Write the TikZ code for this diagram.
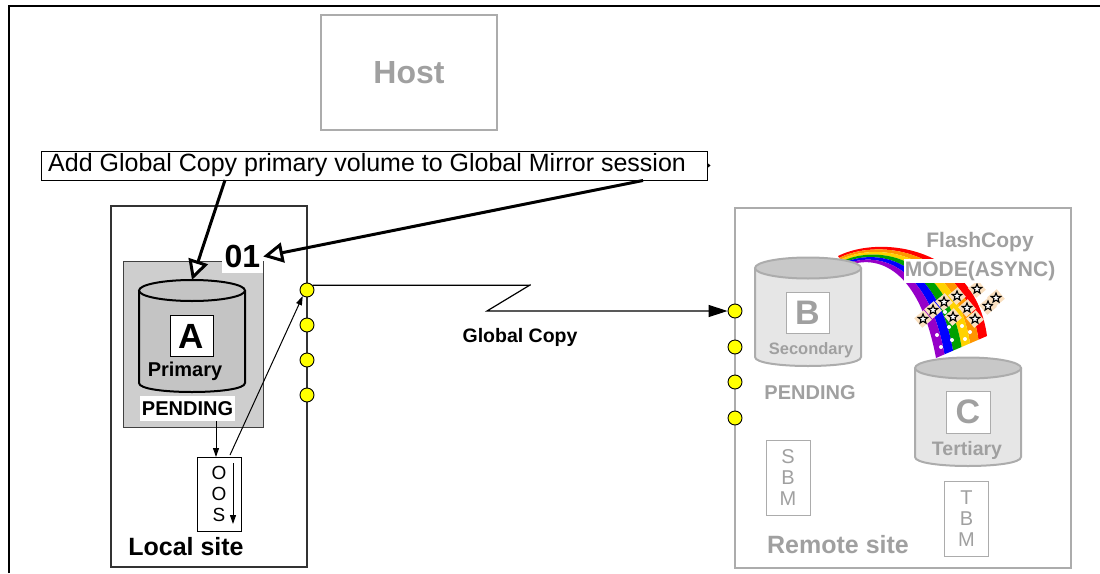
\documentclass[tikz,border=0pt]{standalone}
\usepackage{fontspec}
\setmainfont{Liberation Sans}
\usetikzlibrary{arrows.meta,shapes.geometric,calc}

\definecolor{ghost}{RGB}{160,160,160}
\definecolor{ghostline}{RGB}{172,172,172}
\definecolor{drumgray}{RGB}{196,196,196}
\definecolor{hatchgray}{RGB}{206,206,206}
\definecolor{palebody}{RGB}{230,230,230}
\definecolor{palelid}{RGB}{200,200,200}
\definecolor{portyellow}{RGB}{255,255,0}
\definecolor{tilebeige}{RGB}{250,224,192}
\definecolor{rbred}{RGB}{255,0,0}
\definecolor{rborange}{RGB}{255,150,0}
\definecolor{rbyellow}{RGB}{255,210,0}
\definecolor{rbgreen}{RGB}{0,160,0}
\definecolor{rbblue}{RGB}{0,0,255}
\definecolor{rbviolet}{RGB}{150,0,200}

\newcommand{\fsz}[1]{\fontsize{#1}{#1}\selectfont}
\newcommand{\fszl}[2]{\fontsize{#1}{#2}\selectfont}
% storage drum: centre x, lid centre y, side bottom y, body style, lid style
\newcommand{\storagedrum}[5]{%
  \filldraw[#4] ({#1-53},#2) -- ({#1-53},#3)
    .. controls ({#1-53},{#3+12}) and ({#1+53},{#3+12}) .. ({#1+53},#3) -- ({#1+53},#2);
  \filldraw[#5] (#1,#2) ellipse [x radius=53pt, y radius=10.5pt];
}

\begin{document}
\begin{tikzpicture}[x=1pt,y=-1pt,
  txt/.style={inner sep=0pt},
  ghosttxt/.style={inner sep=0pt, text=ghost, font=\bfseries\fsz{#1}},
  port/.style={circle, draw, line width=0.9pt, fill=portyellow, minimum size=14pt, inner sep=0pt},
  bigarrow/.style={line width=3pt, -{Triangle[fill=white, length=20pt, width=20pt]}},
  thinarrow/.style={line width=1pt, -{Triangle[length=9pt, width=6pt]}},
  labelbox/.style={draw, line width=1pt, fill=white, inner sep=0pt},
  bitmap/.style={draw=ghostline, line width=1pt, minimum width=44pt, minimum height=75pt,
    inner sep=0pt, align=center, text=ghost, font=\fszl{20}{21}},
  tile/.style={rectangle, fill=tilebeige, minimum size=12.5pt, inner sep=0pt, rotate=40},
  starmark/.style={star, star points=5, star point ratio=2.3, draw, line width=1.1pt,
    fill=white, minimum size=10pt, inner sep=0pt}
]
\useasboundingbox (0,0) rectangle (1100,573);

% outer frame (top and left edges)
\draw[line width=1.5pt] (9,573) -- (9,6) -- (1100,6);

% host
\node[draw=ghostline, line width=1.2pt, minimum width=176pt, minimum height=115pt,
  text=ghost, font=\bfseries\fsz{32}] (host) at (409,72.5) {Host};

% command callout
\node[draw, line width=1pt, minimum width=666pt, minimum height=29pt, inner sep=0pt] (note) at (374,165.5) {};
\node[txt, font=\fsz{25}, anchor=west] (notetext) at (48,165) {Add Global Copy primary volume to Global Mirror session};
\fill (note.east) ++(0,-2.5) -- ++(3,2.5) -- ++(-3,2.5) -- cycle;

% ---------- local site ----------
\node[draw=black!80, line width=1.2pt, minimum width=196pt, minimum height=361pt] (local) at (209,386.5) {};
\node[draw=black!75, line width=1pt, fill=hatchgray, minimum width=140pt, minimum height=166pt] (volbox) at (193,344) {};
\storagedrum{192}{290.5}{383}{fill=drumgray, line width=2pt}{fill=drumgray, line width=2pt}
\coordinate (drumAtop) at (192,280);
\node[labelbox, minimum width=43pt, minimum height=41pt, font=\bfseries\fsz{35}] (volA) at (191.5,336) {A};
\node[txt, font=\bfseries\fsz{20}] (prim) at (185,371) {Primary};
\node[fill=white, minimum width=95pt, minimum height=25pt, inner sep=0pt, font=\bfseries\fsz{20}] (pendA) at (187.5,408.5) {PENDING};
\node[fill=white, minimum width=41pt, minimum height=33pt, inner sep=0pt, font=\bfseries\fsz{32}] (sessid) at (242.5,256.5) {01};

% out-of-sync bitmap
\node[draw, line width=1pt, minimum width=44pt, minimum height=74pt, inner sep=0pt,
  align=center, font=\fszl{19}{21}] (oos) at (219,494) {O\\O\\S};
\coordinate (oosA) at (233,463);
\coordinate (oosB) at (233,524);
\draw[thinarrow] (oosA) -- (oosB);
\node[txt, font=\bfseries\fsz{25}] (localname) at (186,547) {Local site};

% local ports
\foreach \i/\y in {1/290,2/325,3/360,4/395}
  \node[port] (lp\i) at (307,\y) {};

% links inside the local site
\coordinate (pendOut) at (216,421);
\coordinate (oosIn) at (216,457);
\draw[thinarrow] (pendOut) -- (oosIn);
\coordinate (oosTop) at (230,455);
\draw[thinarrow] (oosTop) -- (lp1.235);

% command arrows
\coordinate (noteA) at (225,180);
\coordinate (noteB) at (643,180.5);
\draw[bigarrow] (noteA) -- (drumAtop);
\draw[bigarrow] (noteB) -- (sessid.east);

% ---------- remote site ----------
\node[draw=ghostline, line width=1.2pt, minimum width=336pt, minimum height=360pt] (remote) at (903,388) {};

% FlashCopy rainbow
\coordinate (s0) at (838,256);  \coordinate (a0) at (882,234);
\coordinate (b0) at (975,248);  \coordinate (e0) at (987,336);
\coordinate (s6) at (845,267);  \coordinate (a6) at (872,254);
\coordinate (b6) at (918,262);  \coordinate (e6) at (936,358);
\foreach \col [count=\k from 0] in {rbred,rborange,rbyellow,rbgreen,rbblue,rbviolet} {
  \pgfmathsetmacro\ta{\k/6}
  \pgfmathsetmacro\tb{(\k+1)/6}
  \fill[\col] ($(s0)!\ta!(s6)$) .. controls ($(a0)!\ta!(a6)$) and ($(b0)!\ta!(b6)$) .. ($(e0)!\ta!(e6)$)
    -- ($(e0)!\tb!(e6)$) .. controls ($(b0)!\tb!(b6)$) and ($(a0)!\tb!(a6)$) .. ($(s0)!\tb!(s6)$) -- cycle;
}
\foreach \x/\y in {937/335,941/347,949/327,952/340,956/352,962/326,965/339,945/312,970/332}
  \fill[white] (\x,\y) circle[radius=2pt];
\foreach \x/\y [count=\i] in {923/319,933/310,944/302,957/296,953/317,967/308,977/289,975/319,988/306,996/298} {
  \node[tile] (tile\i) at (\x,\y) {};
  \node[starmark] (star\i) at (\x,\y) {};
}

\storagedrum{808}{268}{357}{draw=ghostline, fill=palebody, line width=2pt}{draw=ghostline, fill=palelid, line width=2pt}
\storagedrum{968}{368}{457}{draw=ghostline, fill=palebody, line width=2pt}{draw=ghostline, fill=palelid, line width=2pt}

\node[draw=ghostline, fill=white, line width=1pt, minimum width=43pt, minimum height=41pt, inner sep=0pt,
  text=ghost, font=\bfseries\fsz{34}] (volB) at (807.5,312.5) {B};
\node[ghosttxt=16.5] (sec) at (811,350) {Secondary};
\node[ghosttxt=20] (pendB) at (810,393) {PENDING};
\node[draw=ghostline, fill=white, line width=1pt, minimum width=44pt, minimum height=42pt, inner sep=0pt,
  text=ghost, font=\bfseries\fsz{34}] (volC) at (968,412) {C};
\node[ghosttxt=19.5] (tert) at (967,450) {Tertiary};

\node[ghosttxt=21] (fc1) at (980,242) {FlashCopy};
\node[fill=white, inner xsep=1pt, inner ysep=2.5pt, text=ghost, font=\bfseries\fsz{21}] (fc2) at (980,271) {MODE(ASYNC)};

\node[bitmap] (sbm) at (788,477.5) {S\\B\\M};
\node[bitmap] (tbm) at (966.5,518.5) {T\\B\\M};
\node[ghosttxt=25] (remotename) at (838,545) {Remote site};

% remote ports
\foreach \i/\y in {1/311,2/347,3/382,4/418}
  \node[port] (rp\i) at (735,\y) {};

% Global Copy link
\coordinate (zigA) at (530,285);
\coordinate (zigB) at (487,311);
\draw[line width=1.2pt, -{Triangle[length=19pt, width=12pt]}]
  (lp1.40) -- (lp1.40 -| zigA) -- (zigA) -- (zigB) -- (rp1.west);
\node[txt, font=\bfseries\fsz{19.5}] (gclabel) at (520,337) {Global Copy};
\end{tikzpicture}
\end{document}
